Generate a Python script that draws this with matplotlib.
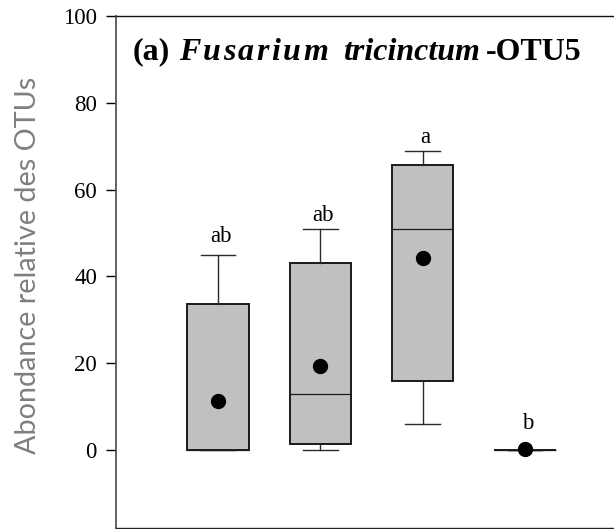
import matplotlib
matplotlib.use("Agg")
import matplotlib.pyplot as plt

# Data
positions = [1, 2, 3, 4]
whislo = [0.0, 0.0, 6.0, 0.0]
q1 = [0.0, 1.5, 16.0, 0.0]
med = [0.0, 13.0, 50.9, 0.0]
q3 = [33.7, 43.2, 65.6, 0.0]
whishi = [45.0, 50.9, 68.9, 0.0]
means = [11.4, 19.4, 44.3, 0.2]
letters = ["ab", "ab", "a", "b"]
letter_y = [48.0, 52.8, 70.8, 4.9]
yticks = [0, 20, 40, 60, 80, 100]

W, H = 614, 529
fig = plt.figure(figsize=(W / 100, H / 100), dpi=100)
left = 115.7 / W
bottom = (H - 527.7) / H
top = (H - 15.7) / H
width = 5 * 102.3 / W
ax = fig.add_axes([left, bottom, width, top - bottom])

stats = []
for i in range(len(positions)):
    stats.append(dict(whislo=whislo[i], q1=q1[i], med=med[i], q3=q3[i],
                      whishi=whishi[i], mean=means[i], fliers=[]))

ax.bxp(stats, positions=positions, widths=0.6, capwidths=0.34,
       showmeans=True, patch_artist=True,
       boxprops=dict(facecolor='#C0C0C0', edgecolor='#1a1a1a', linewidth=1.4),
       medianprops=dict(color='#1a1a1a', linewidth=0.9),
       whiskerprops=dict(color='#2a2a2a', linewidth=1.0),
       capprops=dict(color='#2a2a2a', linewidth=1.0),
       meanprops=dict(marker='o', markerfacecolor='black', markeredgecolor='black',
                      markersize=10))

for x, t, y in zip(positions, letters, letter_y):
    ax.text(x + 0.03, y, t, ha='center', va='baseline', fontsize=16.5,
            family='Liberation Serif', color='black')

ax.set_xlim(0, 5)
ax.set_ylim(-17.8, 100)
ax.set_yticks(yticks)
ax.set_yticklabels([str(v) for v in yticks], family='Liberation Serif', fontsize=16.5)
ax.set_xticks([])
ax.tick_params(axis='y', direction='out', length=7.5, width=1.0, pad=6, colors='black')
ax.spines['right'].set_visible(False)
ax.spines['left'].set_color('#555555')
ax.spines['left'].set_linewidth(1.3)
ax.spines['bottom'].set_color('#222222')
ax.spines['top'].set_color('#111111')
ax.spines['bottom'].set_linewidth(1.0)
ax.spines['top'].set_linewidth(1.0)

fig.text(28 / W, 1 - 265 / H, "Abondance relative des OTUs", rotation=90,
         ha='center', va='center', fontsize=20.7, family='Lato', color='#7f7f7f')

# Title composed of pieces placed at their word positions
fig.canvas.draw()
renderer = fig.canvas.get_renderer()
yb = 1 - 59.5 / H
tfs = 23
tkw = dict(ha='left', va='baseline', fontsize=tfs, family='Liberation Serif', weight='bold')
fig.text(133 / W, yb, "(a)", **tkw)
# letter-spaced italic genus name
genus = "Fusarium"
gx0, gx1 = 179.0, 328.0
widths_px = []
for ch in genus:
    t = fig.text(0, 0, ch, style='italic', **tkw)
    widths_px.append(t.get_window_extent(renderer).width)
    t.remove()
extra = ((gx1 - gx0) - sum(widths_px)) / (len(genus) - 1)
xx = gx0
for ch, w in zip(genus, widths_px):
    fig.text(xx / W, yb, ch, style='italic', **tkw)
    xx += w + extra
fig.text(343 / W, yb, "tricinctum", style='italic', **tkw)
fig.text(486 / W, yb, "-OTU5", **tkw)

fig.savefig("out.png", dpi=100)
